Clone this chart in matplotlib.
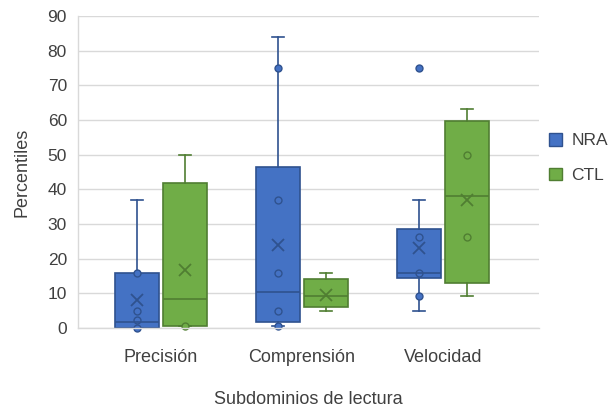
# -*- coding: utf-8 -*-
'''Percentiles por subdominio de lectura, grupos NRA y CTL'''
import numpy as np
import matplotlib.pyplot as plt
from matplotlib.patches import Patch

plt.rcParams['font.family'] = ['Liberation Sans', 'DejaVu Sans']

categorias = ['Precisión', 'Comprensión', 'Velocidad']
grupos = ['NRA', 'CTL']

#NRA: cuartiles, bigotes, medias y puntos
nra_q1 = [0, 1.7, 14.3]
nra_med = [1.6, 10.3, 15.8]
nra_q3 = [15.9, 46.4, 28.5]
nra_lo = [0, 0.5, 4.8]
nra_hi = [37, 84, 37]
nra_media = [8.2, 23.8, 23.0]
nra_puntos = [[0, 2.2, 4.8, 16], [0.5, 4.8, 16, 37, 75], [9.2, 16, 26.2, 75]]

#CTL
ctl_q1 = [0.5, 6.0, 13.0]
ctl_med = [8.4, 9.1, 38.1]
ctl_q3 = [41.7, 14.2, 59.8]
ctl_lo = [0.5, 4.8, 9.2]
ctl_hi = [50, 15.8, 63.1]
ctl_media = [16.6, 9.4, 37.0]
ctl_puntos = [[0.5], [], [26.2, 50]]

texto = '#404040'
rejilla = '#d9d9d9'


def stats(q1, med, q3, lo, hi, media, puntos):
    return [dict(q1=a, med=b, q3=c, whislo=d, whishi=e, mean=f, fliers=np.array(g))
            for a, b, c, d, e, f, g in zip(q1, med, q3, lo, hi, media, puntos)]


def dibujar(ax, st, pos, fill, edge):
    lw = 1.2
    arts = ax.bxp(st, positions=pos, widths=0.31, capwidths=0.09,
                  patch_artist=True, showmeans=True, showfliers=True,
                  boxprops=dict(facecolor=fill, edgecolor=edge, linewidth=lw),
                  medianprops=dict(color=edge, linewidth=lw),
                  whiskerprops=dict(color=edge, linewidth=lw),
                  capprops=dict(color=edge, linewidth=lw),
                  meanprops=dict(marker='x', markeredgecolor=edge, markersize=9,
                                 markeredgewidth=1.3),
                  flierprops=dict(marker='o', markerfacecolor=fill, markeredgecolor=edge,
                                  markersize=5, markeredgewidth=1))
    #que los puntos en 0 no se corten
    for lista in arts.values():
        for a in lista:
            a.set_clip_on(False)


fig = plt.figure(figsize=(6.12, 4.07), dpi=100)
ax = fig.add_axes([78/612, 1-328/407, 461/612, 312/407])

x = np.arange(len(categorias))
dibujar(ax, stats(nra_q1, nra_med, nra_q3, nra_lo, nra_hi, nra_media, nra_puntos),
        x - 0.17, '#4472C4', '#2F528F')
dibujar(ax, stats(ctl_q1, ctl_med, ctl_q3, ctl_lo, ctl_hi, ctl_media, ctl_puntos),
        x + 0.17, '#70AD47', '#507E32')

ax.set_xlim(-0.589, 2.681)
ax.set_ylim(0, 90)
ax.set_yticks(np.arange(0, 91, 10))
ax.set_xticks(x)
ax.set_xticklabels(categorias)

ax.set_axisbelow(True)
ax.grid(axis='y', color=rejilla, linewidth=1)
for s in ['top', 'right']:
    ax.spines[s].set_visible(False)
for s in ['left', 'bottom']:
    ax.spines[s].set_color(rejilla)
    ax.spines[s].set_linewidth(1)

ax.tick_params(axis='y', length=0, pad=8, labelsize=12.5, labelcolor=texto)
ax.tick_params(axis='x', length=0, pad=15, labelsize=13, labelcolor=texto)

ax.set_xlabel('Subdominios de lectura', fontsize=13, color=texto, labelpad=18)
ax.set_ylabel('Percentiles', fontsize=13, color=texto, labelpad=12)

handles = [Patch(facecolor='#4472C4', edgecolor='#2F528F'),
           Patch(facecolor='#70AD47', edgecolor='#507E32')]
fig.legend(handles, grupos, loc='center left', bbox_to_anchor=(549/612, 1-158/407),
           frameon=False, fontsize=12.5, handlelength=0.75, handleheight=0.75,
           handletextpad=0.55, labelspacing=1.1, borderpad=0, borderaxespad=0,
           labelcolor=texto)

plt.savefig('out.png', dpi=100)
